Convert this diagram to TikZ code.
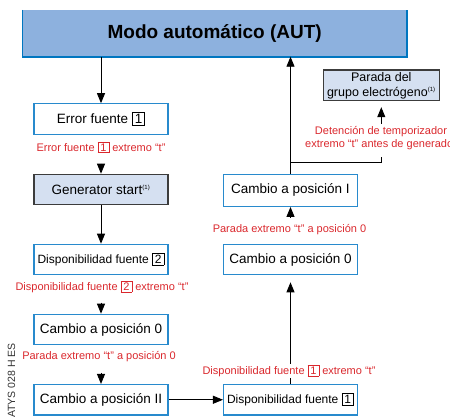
\documentclass[tikz,border=0pt]{standalone}
\usepackage{fontspec}
\setmainfont{Liberation Sans}
\usetikzlibrary{arrows.meta,calc}
\definecolor{boxblue}{RGB}{40,138,205}
\definecolor{topfill}{RGB}{141,177,222}
\definecolor{topline}{RGB}{0,118,192}
\definecolor{genfill}{RGB}{213,224,241}
\definecolor{genline}{RGB}{60,60,60}
\definecolor{labred}{RGB}{218,40,45}
\newcommand\dg[1]{{\setlength\fboxsep{1.2pt}\setlength\fboxrule{0.7pt}\fbox{\hbox to 0.7em{\hss#1\hss}}}}
\newcommand\rdg[1]{{\color{labred}\dg{#1}}}
\newcommand\supone{\textsuperscript{\fontsize{6}{6}\selectfont(1)}}
\begin{document}
\begin{tikzpicture}[x=1pt,y=-1pt,
  stepbox/.style={draw=boxblue, line width=1.1pt, fill=white, minimum width=134pt, minimum height=30.5pt, inner sep=0pt, font=\fontsize{13.5}{16}\selectfont},
  genbox/.style={stepbox, draw=genline, fill=genfill},
  lab/.style={text=labred, font=\fontsize{11}{13.3}\selectfont, inner sep=0pt, align=center},
  arr/.style={-{Triangle[length=10pt,width=8pt]}, line width=0.9pt},
]
\useasboundingbox (0,0) rectangle (450,416);
\node[fill=topfill, minimum width=384pt, minimum height=46.5pt, inner sep=0pt, font=\fontsize{19}{22}\selectfont\bfseries] (top) at (214.7,33.25) {Modo automático (AUT)};
\draw[topline, line width=1.6pt] (top.north west) -- (top.south west) -- (top.south east) -- (top.north east);

\node[stepbox] (err) at (101,119) {Error fuente \dg{1}};
\node[genbox] (gen) at (101,189.5) {Generator start\supone};
\node[stepbox, font=\fontsize{12}{14}\selectfont] (disp2) at (101,259.5) {Disponibilidad fuente \dg{2}};
\node[stepbox] (c0l) at (101,329.5) {Cambio a posición 0};
\node[stepbox] (c2) at (101,399.75) {Cambio a posición II};
\node[stepbox, font=\fontsize{12}{14}\selectfont] (disp1) at (290.5,399.75) {Disponibilidad fuente \dg{1}};
\node[stepbox] (c0r) at (290.5,259.5) {Cambio a posición 0};
\node[stepbox, minimum height=32pt] (c1) at (290.5,190.4) {Cambio a posición I};
\node[genbox, minimum width=116pt, minimum height=30.7pt, align=center, font=\fontsize{12.5}{15}\selectfont] (par) at (381.3,85.3) {Parada del\\grupo electrógeno\supone};

\node[lab] (l1) at (101,147.3) {Error fuente \rdg{1} extremo “t”};
\node[lab] (l2) at (102,286.7) {Disponibilidad fuente \rdg{2} extremo “t”};
\node[lab] (l3) at (99,356.7) {Parada extremo “t” a posición 0};
\node[lab] (l5) at (289.5,230) {Parada extremo “t” a posición 0};
\node[lab] (l6) at (381,138.3) {Detención de temporizador\\extremo “t” antes de generador};

\draw[arr] (err.north |- top.south) -- (err.north);
\draw[arr] ([yshift=10pt]gen.north) -- (gen.north);
\draw[arr] (gen.south) -- (disp2.north);
\draw[arr] ([yshift=11pt]c0l.north) -- (c0l.north);
\draw[arr] ([yshift=11pt]c2.north) -- (c2.north);
\draw[arr] (c2.east) -- (disp1.west);
\draw[arr, shorten >=7pt] (disp1.north) -- (c0r.south);
\draw[arr] ([yshift=-10pt]c1.south) -- (c1.south);
\draw[arr] (c1.north) -- (c1.north |- top.south);
\coordinate (brk) at (381.3,162.7);
\draw[line width=0.9pt] (c1.north |- brk) -- (brk) -- ([yshift=6pt]brk);
\draw[arr] ([yshift=-22.6pt]par.south) -- ([yshift=-6pt]par.south);

\node[lab, fill=white, inner sep=1pt] (l4) at (289,371) {Disponibilidad fuente \rdg{1} extremo “t”};
\node[rotate=90, anchor=east, font=\fontsize{10.5}{12}\selectfont, text=black!80, inner sep=0pt] (code) at (11.5,343) {ATYS 028 H ES};
\end{tikzpicture}
\end{document}
